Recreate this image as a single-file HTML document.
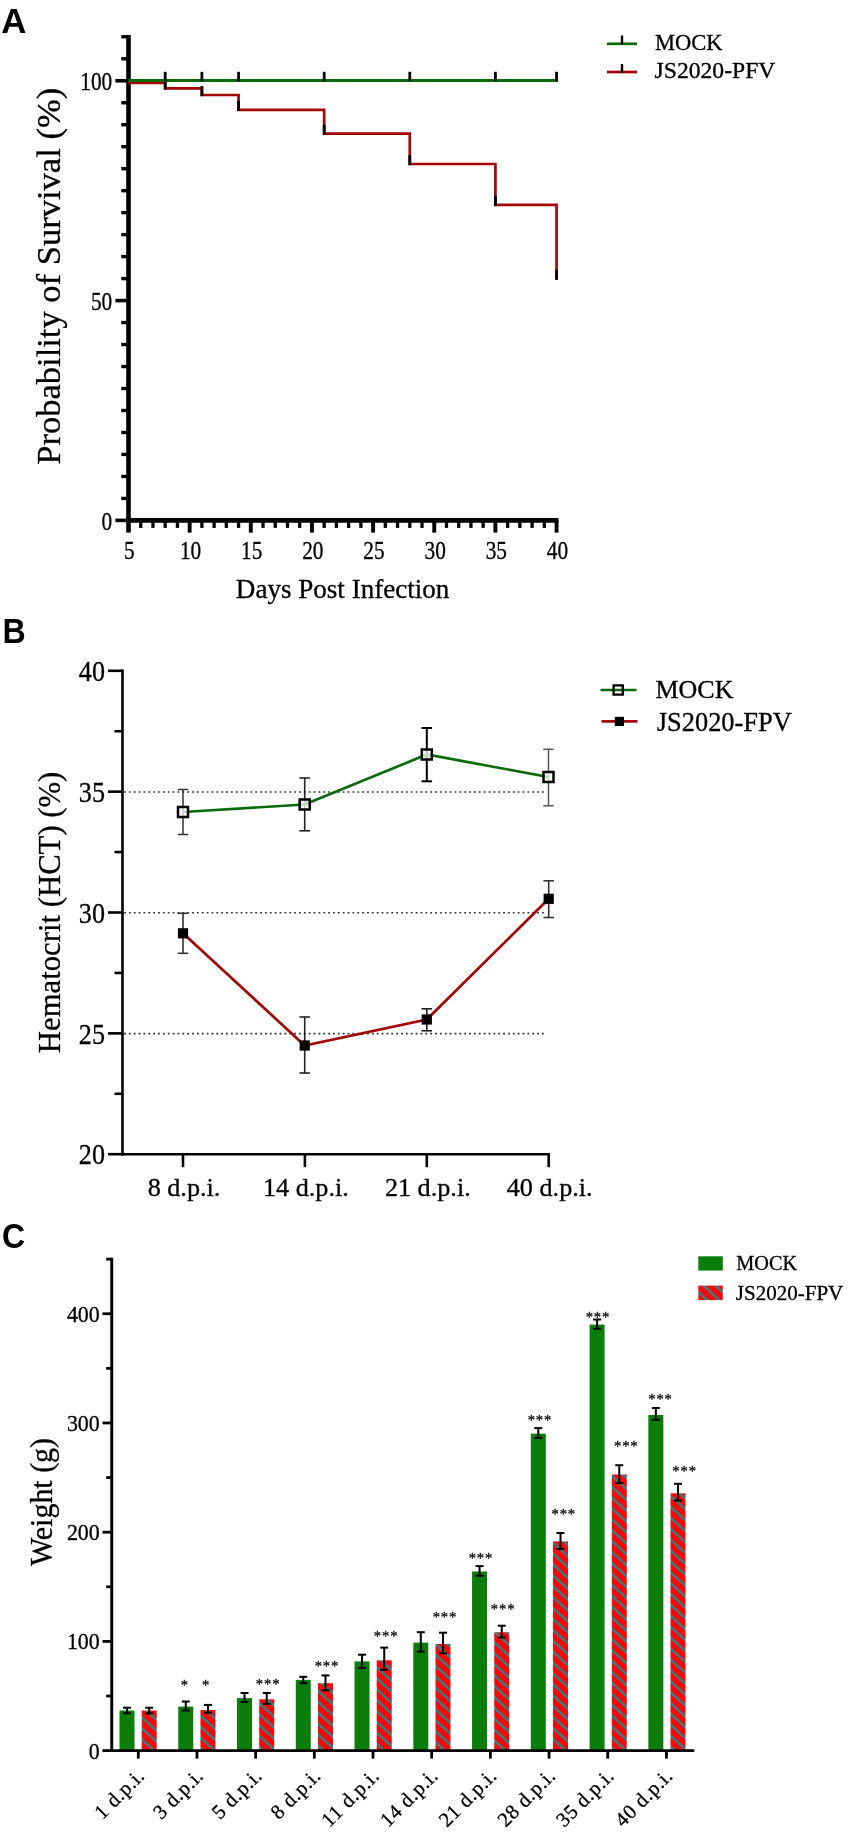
<!DOCTYPE html>
<html lang="en"><head><meta charset="utf-8"><title>Figure</title>
<style>
html,body{margin:0;padding:0;background:#fff;}
svg{display:block;filter:blur(0.45px);}
</style></head><body>
<svg width="854" height="1833" viewBox="0 0 854 1833">
<defs>
<pattern id="hatch" patternUnits="userSpaceOnUse" width="8.1" height="8.1" patternTransform="rotate(-48)">
<rect x="0" y="0" width="8.1" height="8.1" fill="#fe0606"/>
<rect x="0" y="0" width="2.3" height="8.1" fill="#258588"/>
</pattern>
</defs>
<rect x="0" y="0" width="854" height="1833" fill="#fff"/>

<text x="1.2" y="32.6" font-family='"Liberation Sans", Arial, sans-serif' font-size="34.8" text-anchor="start" fill="#000" font-weight="bold" >A</text>
<text x="0" y="0" font-family='"Liberation Sans", Arial, sans-serif' font-size="34.8" text-anchor="start" fill="#000" font-weight="bold"  transform="translate(2.5 643) scale(0.925 1)">B</text>
<text x="0" y="0" font-family='"Liberation Sans", Arial, sans-serif' font-size="35.5" text-anchor="start" fill="#000" font-weight="bold"  transform="translate(1.9 1248.1) scale(0.9 1)">C</text>
<g id="panelA">
<line x1="128.5" y1="35" x2="128.5" y2="522.7" stroke="#000" stroke-width="4.6" />
<line x1="126.2" y1="520.4" x2="558.45" y2="520.4" stroke="#000" stroke-width="4.6" />
<line x1="115.4" y1="520.4" x2="128.5" y2="520.4" stroke="#000" stroke-width="3.6" />
<line x1="121.3" y1="498.42" x2="128.5" y2="498.42" stroke="#000" stroke-width="3.4" />
<line x1="121.3" y1="476.44" x2="128.5" y2="476.44" stroke="#000" stroke-width="3.4" />
<line x1="121.3" y1="454.45" x2="128.5" y2="454.45" stroke="#000" stroke-width="3.4" />
<line x1="121.3" y1="432.47" x2="128.5" y2="432.47" stroke="#000" stroke-width="3.4" />
<line x1="121.3" y1="410.49" x2="128.5" y2="410.49" stroke="#000" stroke-width="3.4" />
<line x1="121.3" y1="388.5" x2="128.5" y2="388.5" stroke="#000" stroke-width="3.4" />
<line x1="121.3" y1="366.52" x2="128.5" y2="366.52" stroke="#000" stroke-width="3.4" />
<line x1="121.3" y1="344.54" x2="128.5" y2="344.54" stroke="#000" stroke-width="3.4" />
<line x1="121.3" y1="322.56" x2="128.5" y2="322.56" stroke="#000" stroke-width="3.4" />
<line x1="115.4" y1="300.57" x2="128.5" y2="300.57" stroke="#000" stroke-width="3.6" />
<line x1="121.3" y1="278.59" x2="128.5" y2="278.59" stroke="#000" stroke-width="3.4" />
<line x1="121.3" y1="256.61" x2="128.5" y2="256.61" stroke="#000" stroke-width="3.4" />
<line x1="121.3" y1="234.63" x2="128.5" y2="234.63" stroke="#000" stroke-width="3.4" />
<line x1="121.3" y1="212.64" x2="128.5" y2="212.64" stroke="#000" stroke-width="3.4" />
<line x1="121.3" y1="190.66" x2="128.5" y2="190.66" stroke="#000" stroke-width="3.4" />
<line x1="121.3" y1="168.68" x2="128.5" y2="168.68" stroke="#000" stroke-width="3.4" />
<line x1="121.3" y1="146.7" x2="128.5" y2="146.7" stroke="#000" stroke-width="3.4" />
<line x1="121.3" y1="124.72" x2="128.5" y2="124.72" stroke="#000" stroke-width="3.4" />
<line x1="121.3" y1="102.73" x2="128.5" y2="102.73" stroke="#000" stroke-width="3.4" />
<line x1="115.4" y1="80.75" x2="128.5" y2="80.75" stroke="#000" stroke-width="3.6" />
<line x1="121.3" y1="58.77" x2="128.5" y2="58.77" stroke="#000" stroke-width="3.4" />
<line x1="121.3" y1="36.79" x2="128.5" y2="36.79" stroke="#000" stroke-width="3.4" />
<line x1="128.5" y1="520.4" x2="128.5" y2="532.6" stroke="#000" stroke-width="4.6" />
<line x1="140.73" y1="520.4" x2="140.73" y2="527.9" stroke="#000" stroke-width="3.3" />
<line x1="152.96" y1="520.4" x2="152.96" y2="527.9" stroke="#000" stroke-width="3.3" />
<line x1="165.19" y1="520.4" x2="165.19" y2="527.9" stroke="#000" stroke-width="3.3" />
<line x1="177.42" y1="520.4" x2="177.42" y2="527.9" stroke="#000" stroke-width="3.3" />
<line x1="189.65" y1="520.4" x2="189.65" y2="532.6" stroke="#000" stroke-width="3.9" />
<line x1="201.88" y1="520.4" x2="201.88" y2="527.9" stroke="#000" stroke-width="3.3" />
<line x1="214.11" y1="520.4" x2="214.11" y2="527.9" stroke="#000" stroke-width="3.3" />
<line x1="226.34" y1="520.4" x2="226.34" y2="527.9" stroke="#000" stroke-width="3.3" />
<line x1="238.57" y1="520.4" x2="238.57" y2="527.9" stroke="#000" stroke-width="3.3" />
<line x1="250.8" y1="520.4" x2="250.8" y2="532.6" stroke="#000" stroke-width="3.9" />
<line x1="263.03" y1="520.4" x2="263.03" y2="527.9" stroke="#000" stroke-width="3.3" />
<line x1="275.26" y1="520.4" x2="275.26" y2="527.9" stroke="#000" stroke-width="3.3" />
<line x1="287.49" y1="520.4" x2="287.49" y2="527.9" stroke="#000" stroke-width="3.3" />
<line x1="299.72" y1="520.4" x2="299.72" y2="527.9" stroke="#000" stroke-width="3.3" />
<line x1="311.95" y1="520.4" x2="311.95" y2="532.6" stroke="#000" stroke-width="3.9" />
<line x1="324.18" y1="520.4" x2="324.18" y2="527.9" stroke="#000" stroke-width="3.3" />
<line x1="336.41" y1="520.4" x2="336.41" y2="527.9" stroke="#000" stroke-width="3.3" />
<line x1="348.64" y1="520.4" x2="348.64" y2="527.9" stroke="#000" stroke-width="3.3" />
<line x1="360.87" y1="520.4" x2="360.87" y2="527.9" stroke="#000" stroke-width="3.3" />
<line x1="373.1" y1="520.4" x2="373.1" y2="532.6" stroke="#000" stroke-width="3.9" />
<line x1="385.33" y1="520.4" x2="385.33" y2="527.9" stroke="#000" stroke-width="3.3" />
<line x1="397.56" y1="520.4" x2="397.56" y2="527.9" stroke="#000" stroke-width="3.3" />
<line x1="409.79" y1="520.4" x2="409.79" y2="527.9" stroke="#000" stroke-width="3.3" />
<line x1="422.02" y1="520.4" x2="422.02" y2="527.9" stroke="#000" stroke-width="3.3" />
<line x1="434.25" y1="520.4" x2="434.25" y2="532.6" stroke="#000" stroke-width="3.9" />
<line x1="446.48" y1="520.4" x2="446.48" y2="527.9" stroke="#000" stroke-width="3.3" />
<line x1="458.71" y1="520.4" x2="458.71" y2="527.9" stroke="#000" stroke-width="3.3" />
<line x1="470.94" y1="520.4" x2="470.94" y2="527.9" stroke="#000" stroke-width="3.3" />
<line x1="483.17" y1="520.4" x2="483.17" y2="527.9" stroke="#000" stroke-width="3.3" />
<line x1="495.4" y1="520.4" x2="495.4" y2="532.6" stroke="#000" stroke-width="3.9" />
<line x1="507.63" y1="520.4" x2="507.63" y2="527.9" stroke="#000" stroke-width="3.3" />
<line x1="519.86" y1="520.4" x2="519.86" y2="527.9" stroke="#000" stroke-width="3.3" />
<line x1="532.09" y1="520.4" x2="532.09" y2="527.9" stroke="#000" stroke-width="3.3" />
<line x1="544.32" y1="520.4" x2="544.32" y2="527.9" stroke="#000" stroke-width="3.3" />
<line x1="556.55" y1="520.4" x2="556.55" y2="532.6" stroke="#000" stroke-width="3.9" />
<text x="0" y="0" font-family='"Liberation Serif", "Times New Roman", serif' font-size="24.5" text-anchor="end" fill="#000" stroke="#000" stroke-width="0.3"  transform="translate(112.2 529.5) scale(0.87 1)">0</text>
<text x="0" y="0" font-family='"Liberation Serif", "Times New Roman", serif' font-size="24.5" text-anchor="end" fill="#000" stroke="#000" stroke-width="0.3"  transform="translate(112.2 309.68) scale(0.87 1)">50</text>
<text x="0" y="0" font-family='"Liberation Serif", "Times New Roman", serif' font-size="24.5" text-anchor="end" fill="#000" stroke="#000" stroke-width="0.3"  transform="translate(112.2 89.85) scale(0.87 1)">100</text>
<text x="0" y="0" font-family='"Liberation Serif", "Times New Roman", serif' font-size="24.5" text-anchor="middle" fill="#000" stroke="#000" stroke-width="0.3"  transform="translate(129.4 558.7) scale(0.87 1)">5</text>
<text x="0" y="0" font-family='"Liberation Serif", "Times New Roman", serif' font-size="24.5" text-anchor="middle" fill="#000" stroke="#000" stroke-width="0.3"  transform="translate(190.55 558.7) scale(0.87 1)">10</text>
<text x="0" y="0" font-family='"Liberation Serif", "Times New Roman", serif' font-size="24.5" text-anchor="middle" fill="#000" stroke="#000" stroke-width="0.3"  transform="translate(251.7 558.7) scale(0.87 1)">15</text>
<text x="0" y="0" font-family='"Liberation Serif", "Times New Roman", serif' font-size="24.5" text-anchor="middle" fill="#000" stroke="#000" stroke-width="0.3"  transform="translate(312.85 558.7) scale(0.87 1)">20</text>
<text x="0" y="0" font-family='"Liberation Serif", "Times New Roman", serif' font-size="24.5" text-anchor="middle" fill="#000" stroke="#000" stroke-width="0.3"  transform="translate(374 558.7) scale(0.87 1)">25</text>
<text x="0" y="0" font-family='"Liberation Serif", "Times New Roman", serif' font-size="24.5" text-anchor="middle" fill="#000" stroke="#000" stroke-width="0.3"  transform="translate(435.15 558.7) scale(0.87 1)">30</text>
<text x="0" y="0" font-family='"Liberation Serif", "Times New Roman", serif' font-size="24.5" text-anchor="middle" fill="#000" stroke="#000" stroke-width="0.3"  transform="translate(496.3 558.7) scale(0.87 1)">35</text>
<text x="0" y="0" font-family='"Liberation Serif", "Times New Roman", serif' font-size="24.5" text-anchor="middle" fill="#000" stroke="#000" stroke-width="0.3"  transform="translate(557.45 558.7) scale(0.87 1)">40</text>
<text x="342.6" y="597.6" font-family='"Liberation Serif", "Times New Roman", serif' font-size="27" text-anchor="middle" fill="#000" textLength="213.5" lengthAdjust="spacingAndGlyphs" stroke="#000" stroke-width="0.3" >Days Post Infection</text>
<text x="60.2" y="276.3" font-family='"Liberation Serif", "Times New Roman", serif' font-size="34" text-anchor="middle" fill="#000" textLength="377" lengthAdjust="spacingAndGlyphs" transform="rotate(-90 60.2 276.3)" stroke="#000" stroke-width="0.3" >Probability of Survival (%)</text>
<path d="M128.5 82.9 H165.19 V88.3 H201.88 V95 H238.57 V109.8 H324.18 V133.7 H409.79 V164 H495.4 V204.9 H556.55 V278.7" fill="none" stroke="#a30606" stroke-width="2.7" stroke-linejoin="miter"/>
<line x1="165.19" y1="89.5" x2="165.19" y2="79.3" stroke="#000" stroke-width="2.8" />
<line x1="201.88" y1="96.2" x2="201.88" y2="86" stroke="#000" stroke-width="2.8" />
<line x1="238.57" y1="111" x2="238.57" y2="100.8" stroke="#000" stroke-width="2.8" />
<line x1="324.18" y1="134.9" x2="324.18" y2="124.7" stroke="#000" stroke-width="2.8" />
<line x1="409.79" y1="165.2" x2="409.79" y2="155" stroke="#000" stroke-width="2.8" />
<line x1="495.4" y1="206.1" x2="495.4" y2="195.9" stroke="#000" stroke-width="2.8" />
<line x1="556.55" y1="279.9" x2="556.55" y2="269.7" stroke="#000" stroke-width="2.8" />
<line x1="128.5" y1="80.5" x2="557.75" y2="80.5" stroke="#0a6a0a" stroke-width="2.8" />
<line x1="165.19" y1="71.8" x2="165.19" y2="81.2" stroke="#000" stroke-width="2.8" />
<line x1="201.88" y1="71.8" x2="201.88" y2="81.2" stroke="#000" stroke-width="2.8" />
<line x1="238.57" y1="71.8" x2="238.57" y2="81.2" stroke="#000" stroke-width="2.8" />
<line x1="324.18" y1="71.8" x2="324.18" y2="81.2" stroke="#000" stroke-width="2.8" />
<line x1="409.79" y1="71.8" x2="409.79" y2="81.2" stroke="#000" stroke-width="2.8" />
<line x1="495.4" y1="71.8" x2="495.4" y2="81.2" stroke="#000" stroke-width="2.8" />
<line x1="556.55" y1="71.8" x2="556.55" y2="81.2" stroke="#000" stroke-width="2.8" />
<line x1="607" y1="43.8" x2="637" y2="43.8" stroke="#0a6a0a" stroke-width="2.7" />
<line x1="622" y1="35.5" x2="622" y2="44.5" stroke="#000" stroke-width="2.4" />
<line x1="607" y1="72" x2="637" y2="72" stroke="#a30606" stroke-width="2.7" />
<line x1="622" y1="64" x2="622" y2="73" stroke="#000" stroke-width="2.4" />
<text x="655" y="50" font-family='"Liberation Serif", "Times New Roman", serif' font-size="23" text-anchor="start" fill="#000" textLength="67.6" lengthAdjust="spacingAndGlyphs" stroke="#000" stroke-width="0.3" >MOCK</text>
<text x="654.6" y="78" font-family='"Liberation Serif", "Times New Roman", serif' font-size="22.5" text-anchor="start" fill="#000" textLength="120.8" lengthAdjust="spacingAndGlyphs" stroke="#000" stroke-width="0.3" >JS2020-PFV</text>
</g>
<g id="panelB">
<line x1="122.5" y1="669.5" x2="122.5" y2="1155.5" stroke="#000" stroke-width="2.6" />
<line x1="121.2" y1="1154.2" x2="550" y2="1154.2" stroke="#000" stroke-width="2.6" />
<line x1="108" y1="1154.2" x2="122.5" y2="1154.2" stroke="#000" stroke-width="2.6" />
<text x="0" y="0" font-family='"Liberation Serif", "Times New Roman", serif' font-size="29.4" text-anchor="end" fill="#000" stroke="#000" stroke-width="0.3"  transform="translate(105 1164.4) scale(0.89 1)">20</text>
<line x1="114.5" y1="1093.78" x2="122.5" y2="1093.78" stroke="#000" stroke-width="2.6" />
<line x1="108" y1="1033.35" x2="122.5" y2="1033.35" stroke="#000" stroke-width="2.6" />
<text x="0" y="0" font-family='"Liberation Serif", "Times New Roman", serif' font-size="29.4" text-anchor="end" fill="#000" stroke="#000" stroke-width="0.3"  transform="translate(105 1043.55) scale(0.89 1)">25</text>
<line x1="114.5" y1="972.93" x2="122.5" y2="972.93" stroke="#000" stroke-width="2.6" />
<line x1="108" y1="912.5" x2="122.5" y2="912.5" stroke="#000" stroke-width="2.6" />
<text x="0" y="0" font-family='"Liberation Serif", "Times New Roman", serif' font-size="29.4" text-anchor="end" fill="#000" stroke="#000" stroke-width="0.3"  transform="translate(105 922.7) scale(0.89 1)">30</text>
<line x1="114.5" y1="852.08" x2="122.5" y2="852.08" stroke="#000" stroke-width="2.6" />
<line x1="108" y1="791.65" x2="122.5" y2="791.65" stroke="#000" stroke-width="2.6" />
<text x="0" y="0" font-family='"Liberation Serif", "Times New Roman", serif' font-size="29.4" text-anchor="end" fill="#000" stroke="#000" stroke-width="0.3"  transform="translate(105 801.85) scale(0.89 1)">35</text>
<line x1="114.5" y1="731.23" x2="122.5" y2="731.23" stroke="#000" stroke-width="2.6" />
<line x1="108" y1="670.8" x2="122.5" y2="670.8" stroke="#000" stroke-width="2.6" />
<text x="0" y="0" font-family='"Liberation Serif", "Times New Roman", serif' font-size="29.4" text-anchor="end" fill="#000" stroke="#000" stroke-width="0.3"  transform="translate(105 681) scale(0.89 1)">40</text>
<line x1="183" y1="1154.2" x2="183" y2="1167.2" stroke="#000" stroke-width="2.6" />
<line x1="304.9" y1="1154.2" x2="304.9" y2="1167.2" stroke="#000" stroke-width="2.6" />
<line x1="426.8" y1="1154.2" x2="426.8" y2="1167.2" stroke="#000" stroke-width="2.6" />
<line x1="548.7" y1="1154.2" x2="548.7" y2="1167.2" stroke="#000" stroke-width="2.6" />
<text x="184" y="1196" font-family='"Liberation Serif", "Times New Roman", serif' font-size="26.2" text-anchor="middle" fill="#000" stroke="#000" stroke-width="0.3" >8 d.p.i.</text>
<text x="305.9" y="1196" font-family='"Liberation Serif", "Times New Roman", serif' font-size="26.2" text-anchor="middle" fill="#000" stroke="#000" stroke-width="0.3" >14 d.p.i.</text>
<text x="427.8" y="1196" font-family='"Liberation Serif", "Times New Roman", serif' font-size="26.2" text-anchor="middle" fill="#000" stroke="#000" stroke-width="0.3" >21 d.p.i.</text>
<text x="549.7" y="1196" font-family='"Liberation Serif", "Times New Roman", serif' font-size="26.2" text-anchor="middle" fill="#000" stroke="#000" stroke-width="0.3" >40 d.p.i.</text>
<text x="60.4" y="912.4" font-family='"Liberation Serif", "Times New Roman", serif' font-size="32.5" text-anchor="middle" fill="#000" textLength="281.5" lengthAdjust="spacingAndGlyphs" transform="rotate(-90 60.4 912.4)" stroke="#000" stroke-width="0.3" >Hematocrit (HCT) (%)</text>
<line x1="124" y1="1033.65" x2="546" y2="1033.65" stroke="#3a3a3a" stroke-width="1.6" stroke-dasharray="1.9 2.96"/>
<line x1="124" y1="912.8" x2="546" y2="912.8" stroke="#3a3a3a" stroke-width="1.6" stroke-dasharray="1.9 2.96"/>
<line x1="124" y1="791.95" x2="546" y2="791.95" stroke="#3a3a3a" stroke-width="1.6" stroke-dasharray="1.9 2.96"/>
<line x1="183" y1="789.5" x2="183" y2="834.5" stroke="#333" stroke-width="1.5" />
<line x1="177.75" y1="789.5" x2="188.25" y2="789.5" stroke="#333" stroke-width="1.5" />
<line x1="177.75" y1="834.5" x2="188.25" y2="834.5" stroke="#333" stroke-width="1.5" />
<line x1="304.7" y1="778" x2="304.7" y2="830.8" stroke="#222" stroke-width="1.6" />
<line x1="299.45" y1="778" x2="309.95" y2="778" stroke="#222" stroke-width="1.6" />
<line x1="299.45" y1="830.8" x2="309.95" y2="830.8" stroke="#222" stroke-width="1.6" />
<line x1="426.8" y1="728" x2="426.8" y2="781.3" stroke="#000" stroke-width="2" />
<line x1="421.55" y1="728" x2="432.05" y2="728" stroke="#000" stroke-width="2" />
<line x1="421.55" y1="781.3" x2="432.05" y2="781.3" stroke="#000" stroke-width="2" />
<line x1="548.5" y1="749.3" x2="548.5" y2="805.8" stroke="#555" stroke-width="1.5" />
<line x1="543.25" y1="749.3" x2="553.75" y2="749.3" stroke="#555" stroke-width="1.5" />
<line x1="543.25" y1="805.8" x2="553.75" y2="805.8" stroke="#555" stroke-width="1.5" />
<line x1="183" y1="913.3" x2="183" y2="953.3" stroke="#333" stroke-width="1.6" />
<line x1="177.75" y1="913.3" x2="188.25" y2="913.3" stroke="#333" stroke-width="1.6" />
<line x1="177.75" y1="953.3" x2="188.25" y2="953.3" stroke="#333" stroke-width="1.6" />
<line x1="304.7" y1="1017" x2="304.7" y2="1073" stroke="#222" stroke-width="1.6" />
<line x1="299.45" y1="1017" x2="309.95" y2="1017" stroke="#222" stroke-width="1.6" />
<line x1="299.45" y1="1073" x2="309.95" y2="1073" stroke="#222" stroke-width="1.6" />
<line x1="426.8" y1="1008.8" x2="426.8" y2="1030.8" stroke="#222" stroke-width="1.6" />
<line x1="421.55" y1="1008.8" x2="432.05" y2="1008.8" stroke="#222" stroke-width="1.6" />
<line x1="421.55" y1="1030.8" x2="432.05" y2="1030.8" stroke="#222" stroke-width="1.6" />
<line x1="548.7" y1="880.8" x2="548.7" y2="917.5" stroke="#333" stroke-width="1.6" />
<line x1="543.45" y1="880.8" x2="553.95" y2="880.8" stroke="#333" stroke-width="1.6" />
<line x1="543.45" y1="917.5" x2="553.95" y2="917.5" stroke="#333" stroke-width="1.6" />
<polyline points="183,812 304.7,804.5 426.8,754.5 548.5,777" fill="none" stroke="#0a6a0a" stroke-width="2.7"/>
<polyline points="183,933.3 304.7,1045.5 426.8,1019.5 548.7,898.8" fill="none" stroke="#a30606" stroke-width="2.7"/>
<rect x="178" y="807" width="10" height="10" fill="#fff" fill-opacity="0.75" stroke="#000" stroke-width="2.5"/>
<rect x="299.7" y="799.5" width="10" height="10" fill="#fff" fill-opacity="0.75" stroke="#000" stroke-width="2.5"/>
<rect x="421.8" y="749.5" width="10" height="10" fill="#fff" fill-opacity="0.75" stroke="#000" stroke-width="2.5"/>
<rect x="543.5" y="772" width="10" height="10" fill="#fff" fill-opacity="0.75" stroke="#000" stroke-width="2.5"/>
<rect x="177.9" y="928.2" width="10.2" height="10.2" fill="#000" />
<rect x="299.6" y="1040.4" width="10.2" height="10.2" fill="#000" />
<rect x="421.7" y="1014.4" width="10.2" height="10.2" fill="#000" />
<rect x="543.6" y="893.7" width="10.2" height="10.2" fill="#000" />
<line x1="600.5" y1="690" x2="636.5" y2="690" stroke="#0a6a0a" stroke-width="2.7" />
<rect x="613.6" y="685.4" width="9.2" height="9.2" fill="none" stroke="#000" stroke-width="2.3"/>
<line x1="601.5" y1="721.3" x2="637.5" y2="721.3" stroke="#a30606" stroke-width="2.7" />
<rect x="614.8" y="716.8" width="9.2" height="9.2" fill="#000" />
<text x="655.4" y="698.2" font-family='"Liberation Serif", "Times New Roman", serif' font-size="26" text-anchor="start" fill="#000" stroke="#000" stroke-width="0.3" >MOCK</text>
<text x="656.8" y="730.8" font-family='"Liberation Serif", "Times New Roman", serif' font-size="27" text-anchor="start" fill="#000" textLength="135" lengthAdjust="spacingAndGlyphs" stroke="#000" stroke-width="0.3" >JS2020-FPV</text>
</g>
<g id="panelC">
<rect x="119.5" y="1710.5" width="15" height="40.1" fill="#0a7d0a" />
<rect x="141.7" y="1710.5" width="15" height="40.1" fill="url(#hatch)" />
<line x1="127" y1="1707.7" x2="127" y2="1713.3" stroke="#000" stroke-width="2" />
<line x1="123" y1="1707.7" x2="131" y2="1707.7" stroke="#000" stroke-width="2" />
<line x1="123" y1="1713.3" x2="131" y2="1713.3" stroke="#000" stroke-width="2" />
<line x1="149.2" y1="1707.7" x2="149.2" y2="1713.3" stroke="#000" stroke-width="2" />
<line x1="145.2" y1="1707.7" x2="153.2" y2="1707.7" stroke="#000" stroke-width="2" />
<line x1="145.2" y1="1713.3" x2="153.2" y2="1713.3" stroke="#000" stroke-width="2" />
<rect x="178.26" y="1706.6" width="15" height="44" fill="#0a7d0a" />
<rect x="200.46" y="1710" width="15" height="40.6" fill="url(#hatch)" />
<line x1="185.76" y1="1701.5" x2="185.76" y2="1710.5" stroke="#000" stroke-width="2" />
<line x1="181.76" y1="1701.5" x2="189.76" y2="1701.5" stroke="#000" stroke-width="2" />
<line x1="181.76" y1="1710.5" x2="189.76" y2="1710.5" stroke="#000" stroke-width="2" />
<line x1="207.96" y1="1704.9" x2="207.96" y2="1712.7" stroke="#000" stroke-width="2" />
<line x1="203.96" y1="1704.9" x2="211.96" y2="1704.9" stroke="#000" stroke-width="2" />
<line x1="203.96" y1="1712.7" x2="211.96" y2="1712.7" stroke="#000" stroke-width="2" />
<rect x="237.02" y="1698.1" width="15" height="52.5" fill="#0a7d0a" />
<rect x="259.22" y="1699.3" width="15" height="51.3" fill="url(#hatch)" />
<line x1="244.52" y1="1693" x2="244.52" y2="1702" stroke="#000" stroke-width="2" />
<line x1="240.52" y1="1693" x2="248.52" y2="1693" stroke="#000" stroke-width="2" />
<line x1="240.52" y1="1702" x2="248.52" y2="1702" stroke="#000" stroke-width="2" />
<line x1="266.72" y1="1693" x2="266.72" y2="1703.8" stroke="#000" stroke-width="2" />
<line x1="262.72" y1="1693" x2="270.72" y2="1693" stroke="#000" stroke-width="2" />
<line x1="262.72" y1="1703.8" x2="270.72" y2="1703.8" stroke="#000" stroke-width="2" />
<rect x="295.78" y="1679.9" width="15" height="70.7" fill="#0a7d0a" />
<rect x="317.98" y="1683.2" width="15" height="67.4" fill="url(#hatch)" />
<line x1="303.28" y1="1676.8" x2="303.28" y2="1683.2" stroke="#000" stroke-width="2" />
<line x1="299.28" y1="1676.8" x2="307.28" y2="1676.8" stroke="#000" stroke-width="2" />
<line x1="299.28" y1="1683.2" x2="307.28" y2="1683.2" stroke="#000" stroke-width="2" />
<line x1="325.48" y1="1675.4" x2="325.48" y2="1690.3" stroke="#000" stroke-width="2" />
<line x1="321.48" y1="1675.4" x2="329.48" y2="1675.4" stroke="#000" stroke-width="2" />
<line x1="321.48" y1="1690.3" x2="329.48" y2="1690.3" stroke="#000" stroke-width="2" />
<rect x="354.54" y="1661.4" width="15" height="89.2" fill="#0a7d0a" />
<rect x="376.74" y="1660.3" width="15" height="90.3" fill="url(#hatch)" />
<line x1="362.04" y1="1654.7" x2="362.04" y2="1667.9" stroke="#000" stroke-width="2" />
<line x1="358.04" y1="1654.7" x2="366.04" y2="1654.7" stroke="#000" stroke-width="2" />
<line x1="358.04" y1="1667.9" x2="366.04" y2="1667.9" stroke="#000" stroke-width="2" />
<line x1="384.24" y1="1647.6" x2="384.24" y2="1669.8" stroke="#000" stroke-width="2" />
<line x1="380.24" y1="1647.6" x2="388.24" y2="1647.6" stroke="#000" stroke-width="2" />
<line x1="380.24" y1="1669.8" x2="388.24" y2="1669.8" stroke="#000" stroke-width="2" />
<rect x="413.3" y="1642.6" width="15" height="108" fill="#0a7d0a" />
<rect x="435.5" y="1644" width="15" height="106.6" fill="url(#hatch)" />
<line x1="420.8" y1="1632.2" x2="420.8" y2="1651.6" stroke="#000" stroke-width="2" />
<line x1="416.8" y1="1632.2" x2="424.8" y2="1632.2" stroke="#000" stroke-width="2" />
<line x1="416.8" y1="1651.6" x2="424.8" y2="1651.6" stroke="#000" stroke-width="2" />
<line x1="443" y1="1632.7" x2="443" y2="1653.3" stroke="#000" stroke-width="2" />
<line x1="439" y1="1632.7" x2="447" y2="1632.7" stroke="#000" stroke-width="2" />
<line x1="439" y1="1653.3" x2="447" y2="1653.3" stroke="#000" stroke-width="2" />
<rect x="472.06" y="1571.5" width="15" height="179.1" fill="#0a7d0a" />
<rect x="494.26" y="1632.2" width="15" height="118.4" fill="url(#hatch)" />
<line x1="479.56" y1="1566.1" x2="479.56" y2="1575.7" stroke="#000" stroke-width="2" />
<line x1="475.56" y1="1566.1" x2="483.56" y2="1566.1" stroke="#000" stroke-width="2" />
<line x1="475.56" y1="1575.7" x2="483.56" y2="1575.7" stroke="#000" stroke-width="2" />
<line x1="501.76" y1="1625.7" x2="501.76" y2="1637.5" stroke="#000" stroke-width="2" />
<line x1="497.76" y1="1625.7" x2="505.76" y2="1625.7" stroke="#000" stroke-width="2" />
<line x1="497.76" y1="1637.5" x2="505.76" y2="1637.5" stroke="#000" stroke-width="2" />
<rect x="530.82" y="1433.7" width="15" height="316.9" fill="#0a7d0a" />
<rect x="553.02" y="1541.4" width="15" height="209.2" fill="url(#hatch)" />
<line x1="538.32" y1="1428.1" x2="538.32" y2="1437.9" stroke="#000" stroke-width="2" />
<line x1="534.32" y1="1428.1" x2="542.32" y2="1428.1" stroke="#000" stroke-width="2" />
<line x1="534.32" y1="1437.9" x2="542.32" y2="1437.9" stroke="#000" stroke-width="2" />
<line x1="560.52" y1="1533" x2="560.52" y2="1549" stroke="#000" stroke-width="2" />
<line x1="556.52" y1="1533" x2="564.52" y2="1533" stroke="#000" stroke-width="2" />
<line x1="556.52" y1="1549" x2="564.52" y2="1549" stroke="#000" stroke-width="2" />
<rect x="589.58" y="1324.6" width="15" height="426" fill="#0a7d0a" />
<rect x="611.78" y="1474.5" width="15" height="276.1" fill="url(#hatch)" />
<line x1="597.08" y1="1319.5" x2="597.08" y2="1328.8" stroke="#000" stroke-width="2" />
<line x1="593.08" y1="1319.5" x2="601.08" y2="1319.5" stroke="#000" stroke-width="2" />
<line x1="593.08" y1="1328.8" x2="601.08" y2="1328.8" stroke="#000" stroke-width="2" />
<line x1="619.28" y1="1465.2" x2="619.28" y2="1482.9" stroke="#000" stroke-width="2" />
<line x1="615.28" y1="1465.2" x2="623.28" y2="1465.2" stroke="#000" stroke-width="2" />
<line x1="615.28" y1="1482.9" x2="623.28" y2="1482.9" stroke="#000" stroke-width="2" />
<rect x="648.34" y="1415" width="15" height="335.6" fill="#0a7d0a" />
<rect x="670.54" y="1493.3" width="15" height="257.3" fill="url(#hatch)" />
<line x1="655.84" y1="1408" x2="655.84" y2="1419.8" stroke="#000" stroke-width="2" />
<line x1="651.84" y1="1408" x2="659.84" y2="1408" stroke="#000" stroke-width="2" />
<line x1="651.84" y1="1419.8" x2="659.84" y2="1419.8" stroke="#000" stroke-width="2" />
<line x1="678.04" y1="1483.8" x2="678.04" y2="1500.6" stroke="#000" stroke-width="2" />
<line x1="674.04" y1="1483.8" x2="682.04" y2="1483.8" stroke="#000" stroke-width="2" />
<line x1="674.04" y1="1500.6" x2="682.04" y2="1500.6" stroke="#000" stroke-width="2" />
<line x1="111.75" y1="1257.74" x2="111.75" y2="1752" stroke="#000" stroke-width="2.9" />
<line x1="110.3" y1="1750.6" x2="694.3" y2="1750.6" stroke="#000" stroke-width="2.9" />
<line x1="102.5" y1="1750.6" x2="111.75" y2="1750.6" stroke="#000" stroke-width="2.8" />
<text x="0" y="0" font-family='"Liberation Serif", "Times New Roman", serif' font-size="23" text-anchor="end" fill="#000" stroke="#000" stroke-width="0.3"  transform="translate(99.8 1758.7) scale(0.955 1)">0</text>
<line x1="106.2" y1="1695.99" x2="111.75" y2="1695.99" stroke="#000" stroke-width="2.8" />
<line x1="102.5" y1="1641.39" x2="111.75" y2="1641.39" stroke="#000" stroke-width="2.8" />
<text x="0" y="0" font-family='"Liberation Serif", "Times New Roman", serif' font-size="23" text-anchor="end" fill="#000" stroke="#000" stroke-width="0.3"  transform="translate(99.8 1649.49) scale(0.955 1)">100</text>
<line x1="106.2" y1="1586.78" x2="111.75" y2="1586.78" stroke="#000" stroke-width="2.8" />
<line x1="102.5" y1="1532.17" x2="111.75" y2="1532.17" stroke="#000" stroke-width="2.8" />
<text x="0" y="0" font-family='"Liberation Serif", "Times New Roman", serif' font-size="23" text-anchor="end" fill="#000" stroke="#000" stroke-width="0.3"  transform="translate(99.8 1540.27) scale(0.955 1)">200</text>
<line x1="106.2" y1="1477.57" x2="111.75" y2="1477.57" stroke="#000" stroke-width="2.8" />
<line x1="102.5" y1="1422.96" x2="111.75" y2="1422.96" stroke="#000" stroke-width="2.8" />
<text x="0" y="0" font-family='"Liberation Serif", "Times New Roman", serif' font-size="23" text-anchor="end" fill="#000" stroke="#000" stroke-width="0.3"  transform="translate(99.8 1431.06) scale(0.955 1)">300</text>
<line x1="106.2" y1="1368.35" x2="111.75" y2="1368.35" stroke="#000" stroke-width="2.8" />
<line x1="102.5" y1="1313.75" x2="111.75" y2="1313.75" stroke="#000" stroke-width="2.8" />
<text x="0" y="0" font-family='"Liberation Serif", "Times New Roman", serif' font-size="23" text-anchor="end" fill="#000" stroke="#000" stroke-width="0.3"  transform="translate(99.8 1321.85) scale(0.955 1)">400</text>
<line x1="106.2" y1="1259.14" x2="111.75" y2="1259.14" stroke="#000" stroke-width="2.8" />
<line x1="138.3" y1="1750.6" x2="138.3" y2="1758.6" stroke="#000" stroke-width="2.8" />
<line x1="196.98" y1="1750.6" x2="196.98" y2="1758.6" stroke="#000" stroke-width="2.8" />
<line x1="255.66" y1="1750.6" x2="255.66" y2="1758.6" stroke="#000" stroke-width="2.8" />
<line x1="314.34" y1="1750.6" x2="314.34" y2="1758.6" stroke="#000" stroke-width="2.8" />
<line x1="373.02" y1="1750.6" x2="373.02" y2="1758.6" stroke="#000" stroke-width="2.8" />
<line x1="431.7" y1="1750.6" x2="431.7" y2="1758.6" stroke="#000" stroke-width="2.8" />
<line x1="490.38" y1="1750.6" x2="490.38" y2="1758.6" stroke="#000" stroke-width="2.8" />
<line x1="549.06" y1="1750.6" x2="549.06" y2="1758.6" stroke="#000" stroke-width="2.8" />
<line x1="607.74" y1="1750.6" x2="607.74" y2="1758.6" stroke="#000" stroke-width="2.8" />
<line x1="666.42" y1="1750.6" x2="666.42" y2="1758.6" stroke="#000" stroke-width="2.8" />
<text x="145.5" y="1777.3" font-family='"Liberation Serif", "Times New Roman", serif' font-size="20.5" text-anchor="end" fill="#000" transform="rotate(-45 145.5 1777.3)" stroke="#000" stroke-width="0.3" textLength="60.65" lengthAdjust="spacing">1 d.p.i.</text>
<text x="204.18" y="1777.3" font-family='"Liberation Serif", "Times New Roman", serif' font-size="20.5" text-anchor="end" fill="#000" transform="rotate(-45 204.18 1777.3)" stroke="#000" stroke-width="0.3" textLength="60.65" lengthAdjust="spacing">3 d.p.i.</text>
<text x="262.86" y="1777.3" font-family='"Liberation Serif", "Times New Roman", serif' font-size="20.5" text-anchor="end" fill="#000" transform="rotate(-45 262.86 1777.3)" stroke="#000" stroke-width="0.3" textLength="60.65" lengthAdjust="spacing">5 d.p.i.</text>
<text x="321.54" y="1777.3" font-family='"Liberation Serif", "Times New Roman", serif' font-size="20.5" text-anchor="end" fill="#000" transform="rotate(-45 321.54 1777.3)" stroke="#000" stroke-width="0.3" textLength="60.65" lengthAdjust="spacing">8 d.p.i.</text>
<text x="380.22" y="1777.3" font-family='"Liberation Serif", "Times New Roman", serif' font-size="20.5" text-anchor="end" fill="#000" transform="rotate(-45 380.22 1777.3)" stroke="#000" stroke-width="0.3" textLength="71.57" lengthAdjust="spacing">11 d.p.i.</text>
<text x="438.9" y="1777.3" font-family='"Liberation Serif", "Times New Roman", serif' font-size="20.5" text-anchor="end" fill="#000" transform="rotate(-45 438.9 1777.3)" stroke="#000" stroke-width="0.3" textLength="71.57" lengthAdjust="spacing">14 d.p.i.</text>
<text x="497.58" y="1777.3" font-family='"Liberation Serif", "Times New Roman", serif' font-size="20.5" text-anchor="end" fill="#000" transform="rotate(-45 497.58 1777.3)" stroke="#000" stroke-width="0.3" textLength="71.57" lengthAdjust="spacing">21 d.p.i.</text>
<text x="556.26" y="1777.3" font-family='"Liberation Serif", "Times New Roman", serif' font-size="20.5" text-anchor="end" fill="#000" transform="rotate(-45 556.26 1777.3)" stroke="#000" stroke-width="0.3" textLength="71.57" lengthAdjust="spacing">28 d.p.i.</text>
<text x="614.94" y="1777.3" font-family='"Liberation Serif", "Times New Roman", serif' font-size="20.5" text-anchor="end" fill="#000" transform="rotate(-45 614.94 1777.3)" stroke="#000" stroke-width="0.3" textLength="71.57" lengthAdjust="spacing">35 d.p.i.</text>
<text x="673.62" y="1777.3" font-family='"Liberation Serif", "Times New Roman", serif' font-size="20.5" text-anchor="end" fill="#000" transform="rotate(-45 673.62 1777.3)" stroke="#000" stroke-width="0.3" textLength="71.57" lengthAdjust="spacing">40 d.p.i.</text>
<text x="52.2" y="1502" font-family='"Liberation Serif", "Times New Roman", serif' font-size="32" text-anchor="middle" fill="#000" textLength="128" lengthAdjust="spacingAndGlyphs" transform="rotate(-90 52.2 1502)" stroke="#000" stroke-width="0.3" >Weight (g)</text>
<text x="184.9" y="1690.1" font-family='"Liberation Serif", "Times New Roman", serif' font-size="14.5" text-anchor="middle" fill="#141414" letter-spacing="0.9" stroke="#141414" stroke-width="0.35">*</text>
<text x="206.2" y="1690.1" font-family='"Liberation Serif", "Times New Roman", serif' font-size="14.5" text-anchor="middle" fill="#141414" letter-spacing="0.9" stroke="#141414" stroke-width="0.35">*</text>
<text x="268.1" y="1689.3" font-family='"Liberation Serif", "Times New Roman", serif' font-size="14.5" text-anchor="middle" fill="#141414" letter-spacing="0.9" stroke="#141414" stroke-width="0.35">***</text>
<text x="326.9" y="1670.9" font-family='"Liberation Serif", "Times New Roman", serif' font-size="14.5" text-anchor="middle" fill="#141414" letter-spacing="0.9" stroke="#141414" stroke-width="0.35">***</text>
<text x="386.1" y="1641.1" font-family='"Liberation Serif", "Times New Roman", serif' font-size="14.5" text-anchor="middle" fill="#141414" letter-spacing="0.9" stroke="#141414" stroke-width="0.35">***</text>
<text x="444.9" y="1622.2" font-family='"Liberation Serif", "Times New Roman", serif' font-size="14.5" text-anchor="middle" fill="#141414" letter-spacing="0.9" stroke="#141414" stroke-width="0.35">***</text>
<text x="480.9" y="1562.9" font-family='"Liberation Serif", "Times New Roman", serif' font-size="14.5" text-anchor="middle" fill="#141414" letter-spacing="0.9" stroke="#141414" stroke-width="0.35">***</text>
<text x="503.1" y="1613.5" font-family='"Liberation Serif", "Times New Roman", serif' font-size="14.5" text-anchor="middle" fill="#141414" letter-spacing="0.9" stroke="#141414" stroke-width="0.35">***</text>
<text x="539.9" y="1424.9" font-family='"Liberation Serif", "Times New Roman", serif' font-size="14.5" text-anchor="middle" fill="#141414" letter-spacing="0.9" stroke="#141414" stroke-width="0.35">***</text>
<text x="563.8" y="1519.3" font-family='"Liberation Serif", "Times New Roman", serif' font-size="14.5" text-anchor="middle" fill="#141414" letter-spacing="0.9" stroke="#141414" stroke-width="0.35">***</text>
<text x="597.9" y="1322.2" font-family='"Liberation Serif", "Times New Roman", serif' font-size="14.5" text-anchor="middle" fill="#141414" letter-spacing="0.9" stroke="#141414" stroke-width="0.35">***</text>
<text x="626.3" y="1451.3" font-family='"Liberation Serif", "Times New Roman", serif' font-size="14.5" text-anchor="middle" fill="#141414" letter-spacing="0.9" stroke="#141414" stroke-width="0.35">***</text>
<text x="660.5" y="1404.3" font-family='"Liberation Serif", "Times New Roman", serif' font-size="14.5" text-anchor="middle" fill="#141414" letter-spacing="0.9" stroke="#141414" stroke-width="0.35">***</text>
<text x="684.6" y="1476.3" font-family='"Liberation Serif", "Times New Roman", serif' font-size="14.5" text-anchor="middle" fill="#141414" letter-spacing="0.9" stroke="#141414" stroke-width="0.35">***</text>
<rect x="698.3" y="1256.3" width="24.5" height="14.3" fill="#0a7d0a" />
<rect x="698.3" y="1285.6" width="24.5" height="14.5" fill="url(#hatch)" />
<text x="736.3" y="1269.6" font-family='"Liberation Serif", "Times New Roman", serif' font-size="20.3" text-anchor="start" fill="#000" stroke="#000" stroke-width="0.3" >MOCK</text>
<text x="735.8" y="1299.7" font-family='"Liberation Serif", "Times New Roman", serif' font-size="20.5" text-anchor="start" fill="#000" textLength="107.5" lengthAdjust="spacingAndGlyphs" stroke="#000" stroke-width="0.3" >JS2020-FPV</text>
</g>
</svg>
</body></html>
